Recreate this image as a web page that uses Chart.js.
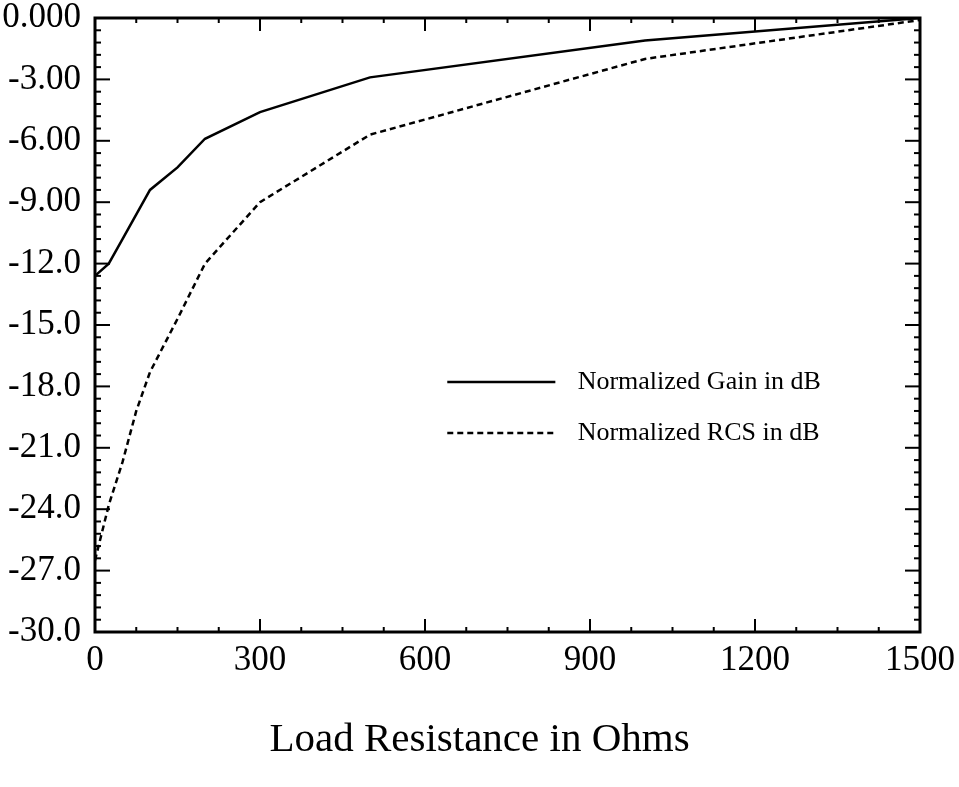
<!DOCTYPE html>
<html><head><meta charset="utf-8">
<script src="https://cdn.jsdelivr.net/npm/chart.js@4/dist/chart.umd.min.js"></script>
<style>html,body{margin:0;padding:0;background:#fff;}#wrap{width:959px;height:787px;}</style>
</head><body><div id="wrap"><canvas id="c" width="959" height="787"></canvas></div>
<script>
// ---- data ----
const gainR  = [0, 25, 50, 100, 150, 200, 300, 500, 1000, 1500];
const gainDb = [-12.6, -12.0, -10.8, -8.4, -7.3, -5.9, -4.6, -2.9, -1.1, 0.0];
const rcsR   = [0, 25, 50, 75, 100, 150, 200, 300, 500, 1000, 1500];
const rcsDb  = [-26.5, -23.8, -21.7, -19.2, -17.3, -14.7, -12.0, -9.0, -5.7, -2.0, -0.1];
const xTicks = [0, 300, 600, 900, 1200, 1500];
const xTickLabels = ["0", "300", "600", "900", "1200", "1500"];
const yTicks = [0, -3, -6, -9, -12, -15, -18, -21, -24, -27, -30];
const yTickLabels = ["0.000", "-3.00", "-6.00", "-9.00", "-12.0", "-15.0", "-18.0", "-21.0", "-24.0", "-27.0", "-30.0"];
const seriesNames = ["Normalized Gain in dB", "Normalized RCS in dB"];
const xTitle = "Load Resistance in Ohms";

const FONT = "'Liberation Serif', 'Times New Roman', serif";

const frameTicks = {
  id: 'frameTicks',
  afterDraw(chart) {
    const {ctx, chartArea: a, scales: {x, y}} = chart;
    ctx.save();
    ctx.strokeStyle = '#000';
    ctx.lineCap = 'butt';
    const line = (x1, y1, x2, y2) => { ctx.beginPath(); ctx.moveTo(x1, y1); ctx.lineTo(x2, y2); ctx.stroke(); };
    ctx.lineWidth = 2;
    const xMin = x.min, xMax = x.max, xStep = (xTicks[1] - xTicks[0]) / 4;
    for (let k = 0; k <= Math.round((xMax - xMin) / xStep); k++) {
      const v = xMin + k * xStep;
      const px = x.getPixelForValue(v);
      const major = k % 4 === 0;
      const L = major ? 13 : 5;
      line(px, a.bottom, px, a.bottom - L);
      line(px, a.top, px, a.top + L);
    }
    const yStep = (yTicks[0] - yTicks[1]) / 5;
    for (let k = 0; k <= Math.round((y.max - y.min) / yStep); k++) {
      const v = y.max - k * yStep;
      const py = y.getPixelForValue(v);
      const major = k % 5 === 0;
      const L = major ? 15 : 6;
      line(a.left, py, a.left + L, py);
      line(a.right, py, a.right - L, py);
    }
    ctx.lineWidth = 3;
    ctx.strokeRect(a.left, a.top, a.right - a.left, a.bottom - a.top);

    // legend
    const w = a.right - a.left, h = a.bottom - a.top;
    const lx1 = a.left + 0.427 * w, lx2 = a.left + 0.558 * w, tx = a.left + 0.585 * w;
    const ys = [a.top + 0.593 * h, a.top + 0.676 * h];
    chart.data.datasets.forEach((ds, i) => {
      ctx.lineWidth = 2.5;
      ctx.setLineDash(ds.borderDash || []);
      line(lx1, ys[i], lx2, ys[i]);
      ctx.setLineDash([]);
      ctx.fillStyle = '#000';
      ctx.font = "26px " + FONT;
      ctx.textBaseline = 'middle';
      ctx.textAlign = 'left';
      ctx.fillText(ds.label, tx, ys[i]);
    });

    // axis title (centred on the page, as in the reference)
    ctx.font = "41px " + FONT;
    ctx.textAlign = 'center';
    ctx.textBaseline = 'middle';
    ctx.fillText(xTitle, chart.width / 2, chart.height - 47);
    ctx.restore();
  }
};

new Chart(document.getElementById('c'), {
  type: 'line',
  data: {
    datasets: [
      { label: seriesNames[0], data: gainR.map((r, i) => ({x: r, y: gainDb[i]})),
        borderColor: '#000', borderWidth: 2.5, pointRadius: 0, tension: 0, fill: false },
      { label: seriesNames[1], data: rcsR.map((r, i) => ({x: r, y: rcsDb[i]})),
        borderColor: '#000', borderWidth: 2.5, borderDash: [6, 4], pointRadius: 0, tension: 0, fill: false }
    ]
  },
  options: {
    responsive: false, animation: false, devicePixelRatio: 1,
    layout: { padding: { top: 18, right: 39, left: 0, bottom: 0 } },
    plugins: { legend: { display: false }, tooltip: { enabled: false } },
    scales: {
      x: {
        type: 'linear', min: 0, max: 1500,
        afterBuildTicks: s => { s.ticks = xTicks.map(v => ({value: v})); },
        afterFit: s => { s.height = 155; s.paddingLeft = 0; s.paddingRight = 0; },
        ticks: { callback: (v, i) => xTickLabels[i], font: { family: FONT, size: 35 }, color: '#000', padding: 8, maxRotation: 0, autoSkip: false },
        grid: { display: false, drawTicks: false },
        border: { display: false },
        title: { display: false }
      },
      y: {
        type: 'linear', min: -30, max: 0,
        afterBuildTicks: s => { s.ticks = yTicks.map(v => ({value: v})); },
        afterFit: s => { s.width = 95; s.paddingTop = 0; s.paddingBottom = 0; },
        ticks: { callback: (v, i) => yTickLabels[i], font: { family: FONT, size: 35 }, color: '#000', padding: 14, autoSkip: false },
        grid: { display: false, drawTicks: false },
        border: { display: false }
      }
    }
  },
  plugins: [frameTicks]
});
</script>
</body></html>
